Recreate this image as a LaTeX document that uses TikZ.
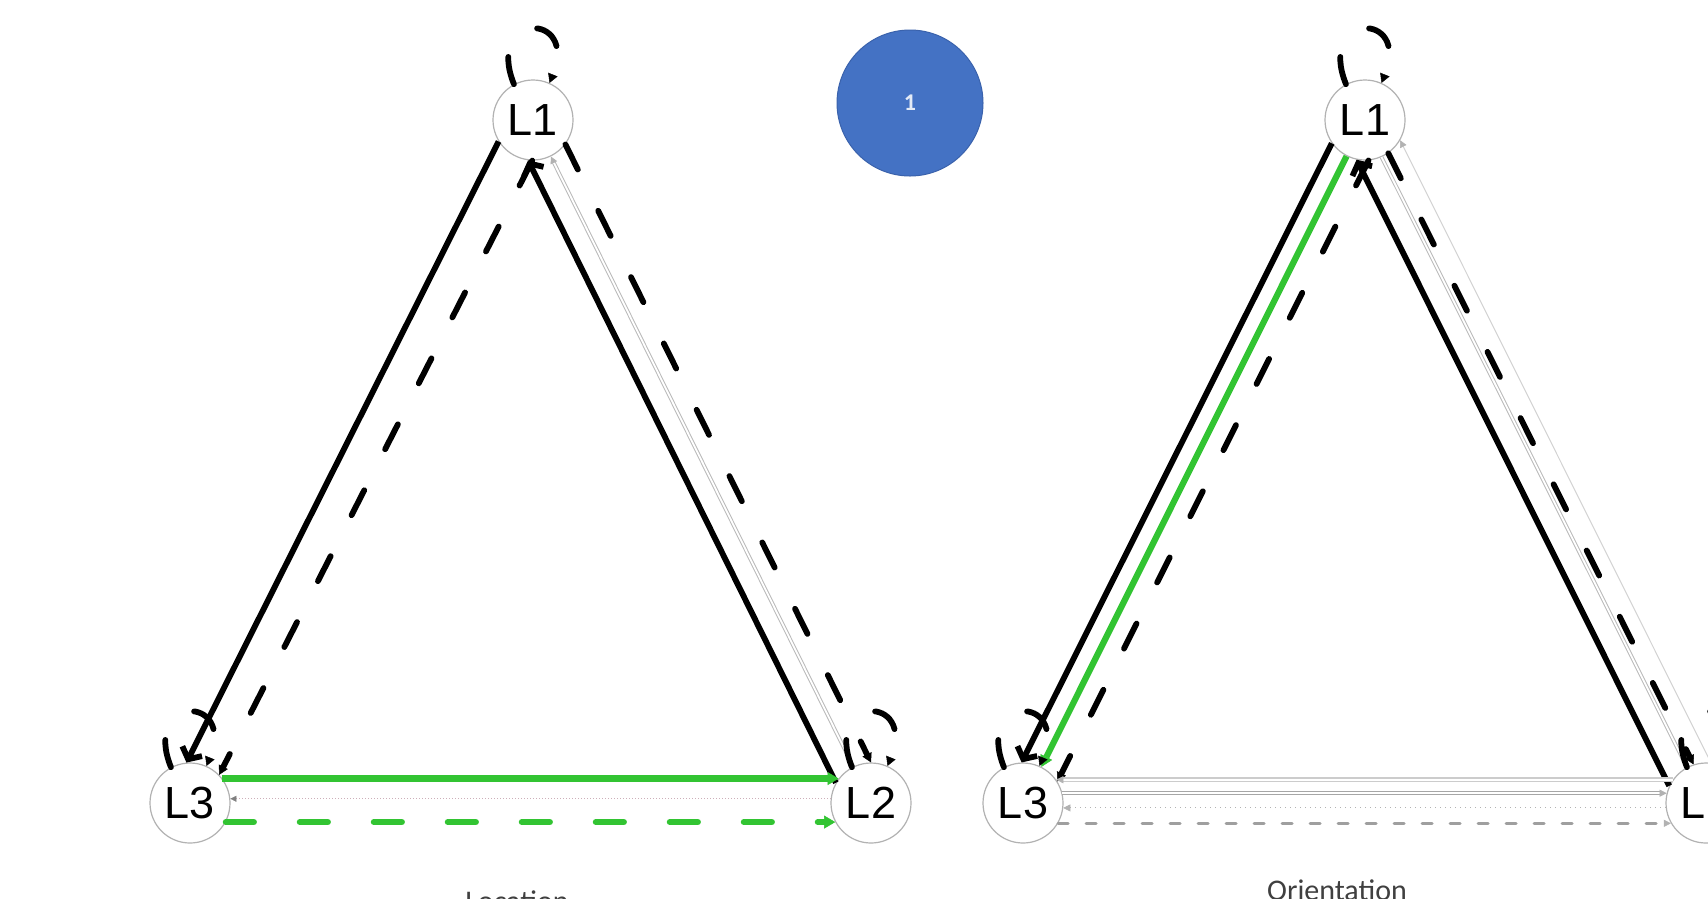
\documentclass[tikz,border=0pt]{standalone}
\usepackage{fontspec}
\setmainfont{Liberation Sans}
\newfontfamily\calibri{Carlito}
\usetikzlibrary{arrows.meta}
\definecolor{grn}{RGB}{50,196,50}
\definecolor{blu}{RGB}{68,114,196}
\definecolor{bluedge}{RGB}{58,98,172}
\definecolor{pinkgray}{RGB}{205,175,185}
\begin{document}
\begin{tikzpicture}[x=1pt,y=-1pt,
  loc/.style={circle,draw=gray!60,line width=1.2pt,fill=white,minimum size=80pt,inner sep=0pt,font=\fontsize{45}{45}\selectfont},
  blk/.style={line width=5.8pt,black},
  bdash/.style={line width=5.8pt,black,line cap=round,dash pattern=on 28pt off 46pt},
  barb/.style={-{Straight Barb[length=9pt,width=22pt]}},
  smalltip/.style={-{Triangle[length=9pt,width=10pt,line width=0.5pt]}},
  gtip/.style={-{Triangle[length=7pt,width=7pt,line width=0.5pt,color=gray!60,fill=gray!60]}},
  grnsolid/.style={line width=6.2pt,grn,-{Triangle[length=11pt,width=13pt,line width=0.5pt]}},
  grndash/.style={line width=6.2pt,grn,line cap=round,dash pattern=on 28pt off 46pt,-{Triangle[length=11pt,width=13pt,line width=0.5pt]}},
  gdouble/.style={draw=gray!55,double=white,line width=1pt,double distance=1.8pt},
  loopline/.style={bdash,smalltip},
  lbl/.style={anchor=base,font=\calibri\fontsize{30}{30}\selectfont,text=black!75}
]
\useasboundingbox[fill=white] (0,0) rectangle (1708,898);

% nodes
\node[loc] (a1) at (533,120) {L1};
\node[loc] (a2) at (871,803) {L2};
\node[loc] (a3) at (190,803) {L3};
\node[loc] (b1) at (1365,120) {L1};
\node[loc] (b2) at (1706,803) {L2};
\node[loc] (b3) at (1023,803) {L3};

% badge
\node[circle,fill=blu,draw=bluedge,line width=1pt,minimum size=146pt,inner sep=0pt,text=white!85!blu,font=\calibri\bfseries\fontsize{24}{24}\selectfont] (badge) at (910,103) {1};

% left triangle
\draw[blk,barb] (a1.212) -- (a3.95);
\draw[bdash,smalltip] (a1.269) -- (a3.44);
\draw[blk,barb] (a2.150) -- (a1.263);
\draw[gdouble,gtip] (a2.116) -- (a1.296);
\draw[bdash,smalltip] (a1.323) -- (a2.90);
\draw[grnsolid] (a3.37) -- (a2.143);
\draw[pinkgray,line width=1pt,dotted,-{Triangle[length=6pt,width=6pt,color=gray,fill=gray,line width=0.4pt]}] (a2.174) -- (a3.6);
\draw[grndash] (a3.332) -- (a2.208);

% left loops
\draw[loopline] (a1.118) .. controls +(112:78pt) and +(68:78pt) .. (a1.66);
\draw[loopline] (a2.118) .. controls +(112:78pt) and +(68:78pt) .. (a2.66);
\draw[loopline] (a3.118) .. controls +(112:78pt) and +(68:78pt) .. (a3.66);

% right triangle
\draw[blk,barb] (b1.215) -- (b3.92);
\draw[grnsolid] (b1.243) -- (b3.63);
\draw[bdash,smalltip] (b1.275) -- (b3.32);
\draw[blk,barb] (b2.155) -- (b1.258);
\draw[gdouble] (b2.118) -- (b1.294);
\draw[bdash,smalltip] (b1.305) -- (b2.108);
\draw[gray!35,line width=1pt,gtip] (b2.83) -- (b1.330);

\draw[draw=gray!40,double=white,line width=1.2pt,double distance=2.2pt,gtip] (b2.145) -- (b3.35);
\draw[draw=gray!70,double=white,line width=1.2pt,double distance=1.6pt,gtip] (b3.14) -- (b2.166);
\draw[gray!60,line width=1pt,dash pattern=on 1pt off 4pt,gtip] (b2.187) -- (b3.353);
\draw[gray!75,line width=3pt,line cap=round,dash pattern=on 10pt off 18pt,gtip] (b3.330) -- (b2.210);

% right loops
\draw[loopline] (b1.118) .. controls +(112:78pt) and +(68:78pt) .. (b1.66);
\draw[loopline] (b2.118) .. controls +(112:78pt) and +(68:78pt) .. (b2.66);
\draw[loopline] (b3.118) .. controls +(112:78pt) and +(68:78pt) .. (b3.66);

% labels
\node[lbl] (loclbl) at (517,911) {Location};
\node[lbl] (orilbl) at (1337,900) {Orientation};
\end{tikzpicture}
\end{document}
